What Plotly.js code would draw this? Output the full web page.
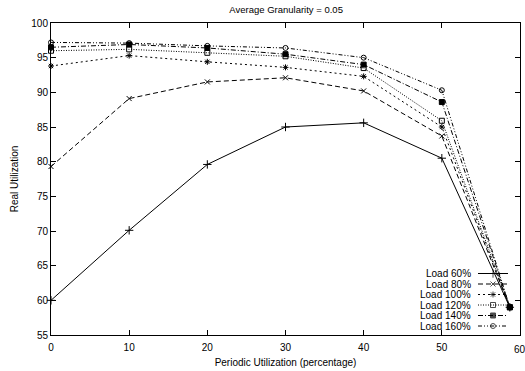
<!DOCTYPE html>
<html>
<head>
<meta charset="utf-8">
<script src="https://cdn.plot.ly/plotly-3.0.1.min.js"></script>
<style>html,body{margin:0;padding:0;background:#fff}#chart{width:525px;height:371px}</style>
</head>
<body>
<div id="chart"></div>
<script>
// Periodic utilization (percentage)
const xVals = [0, 10, 20, 30, 40, 50, 58.7];
const load60  = [60.0, 70.1, 79.6, 85.0, 85.6, 80.5, 59.0];
const load80  = [79.3, 89.1, 91.5, 92.1, 90.2, 83.7, 59.0];
const load100 = [93.8, 95.3, 94.4, 93.6, 92.3, 85.0, 59.0];
const load120 = [96.0, 96.2, 95.7, 95.2, 93.5, 85.9, 59.0];
const load140 = [96.5, 96.9, 96.4, 95.5, 94.0, 88.6, 59.0];
const load160 = [97.2, 97.1, 96.7, 96.4, 95.0, 90.3, 59.0];
const seriesNames = ["Load 60%", "Load 80%", "Load 100%", "Load 120%", "Load 140%", "Load 160%"];
const xTicks = [0, 10, 20, 30, 40, 50, 60];
const yTicks = [55, 60, 65, 70, 75, 80, 85, 90, 95, 100];

const allSeries = [load60, load80, load100, load120, load140, load160];
const styles = [
  {dash: "solid", symbol: "cross-thin-open", size: 6},
  {dash: "5px,3px", symbol: "x-thin-open", size: 5},
  {dash: "2px,3px", symbol: "asterisk-open", size: 5},
  {dash: "1px,1.5px", symbol: "square-open", size: 5},
  {dash: "5px,2px,1px,2px", symbol: "square", size: 5},
  {dash: "4px,2px,1px,2px,1px,2px", symbol: "circle-open", size: 5}
];

const traces = [];
allSeries.forEach((ys, i) => {
  traces.push({
    x: xVals, y: ys, type: "scatter", mode: "lines+markers",
    name: seriesNames[i], showlegend: false, cliponaxis: false,
    line: {color: "#000", width: 1, dash: styles[i].dash},
    marker: {symbol: styles[i].symbol, size: styles[i].size, color: "#000",
             line: {color: "#000", width: 1}}
  });
});

const font = {family: "Liberation Sans, Arial, sans-serif", size: 10, color: "#000"};

// Custom gnuplot-style legend (text then sample), on an overlay pixel axis
const L = 51, R = 520, T = 23, B = 335;
const annotations = [];
seriesNames.forEach((n, i) => {
  const yy = 273.5 + i * 10.5;
  traces.push({
    x: [478, 493, 508], y: [yy, yy, yy], xaxis: "x2", yaxis: "y2",
    type: "scatter", mode: "lines+markers", showlegend: false, hoverinfo: "skip",
    line: {color: "#000", width: 1, dash: styles[i].dash},
    marker: {symbol: styles[i].symbol, size: [0, styles[i].size, 0], color: "#000",
             line: {color: "#000", width: 1}}
  });
  annotations.push({
    x: 473, y: yy, xref: "x2", yref: "y2", text: n, showarrow: false,
    xanchor: "right", yanchor: "middle", font: font
  });
});
// last x tick label sits at the right edge of the figure
annotations.push({
  x: 60, y: 0, xref: "x", yref: "paper", text: String(xTicks[xTicks.length - 1]),
  showarrow: false, xanchor: "center", yanchor: "top", yshift: -7, font: font
});

const layout = {
  width: 525, height: 371,
  margin: {l: L, r: 525 - R, t: T, b: 371 - B, pad: 0},
  paper_bgcolor: "#fff", plot_bgcolor: "#fff",
  font: font,
  showlegend: false,
  title: {text: "Average Granularity = 0.05", font: {family: font.family, size: 9.5, color: "#000"},
          x: 0.545, xanchor: "center", y: 0.975, yanchor: "middle"},
  xaxis: {
    range: [0, 60], tickvals: xTicks, ticktext: xTicks.map((t, i) => i === xTicks.length - 1 ? "" : String(t)),
    ticks: "inside", ticklen: 5, tickcolor: "#000", mirror: "allticks", ticklabelstandoff: 3,
    showline: true, linecolor: "#000", linewidth: 1, showgrid: false, zeroline: false,
    tickfont: font,
    title: {text: "Periodic Utilization (percentage)", font: {family: font.family, size: 10, color: "#000"}, standoff: 6}
  },
  yaxis: {
    range: [55, 100], tickvals: yTicks, ticktext: yTicks.map(String),
    ticks: "inside", ticklen: 5, tickcolor: "#000", mirror: "allticks",
    showline: true, linecolor: "#000", linewidth: 1, showgrid: false, zeroline: false,
    tickfont: font,
    title: {text: "Real Utilization", font: {family: font.family, size: 10, color: "#000"}, standoff: 10}
  },
  xaxis2: {overlaying: "x", range: [L, R], visible: false, fixedrange: true},
  yaxis2: {overlaying: "y", range: [B, T], visible: false, fixedrange: true},
  annotations: annotations
};

Plotly.newPlot("chart", traces, layout, {displayModeBar: false, staticPlot: true});
</script>
</body>
</html>
